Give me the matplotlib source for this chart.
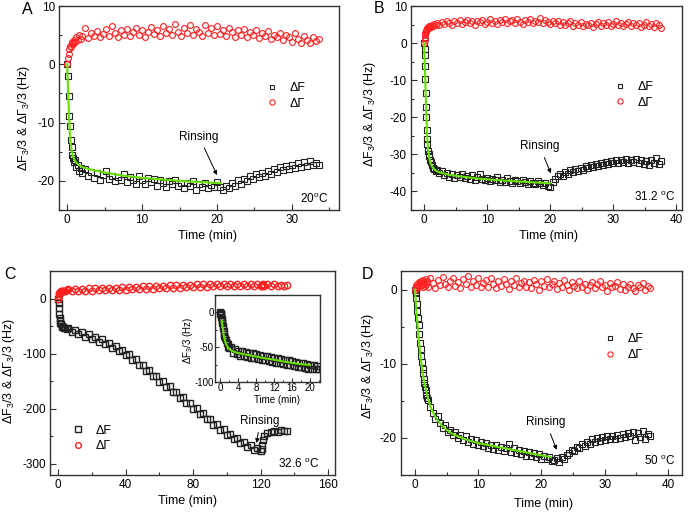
import matplotlib
matplotlib.use("Agg")
import matplotlib.pyplot as plt
from matplotlib.ticker import MultipleLocator

plt.rcParams["font.family"] = ["Liberation Sans", "DejaVu Sans"]
plt.rcParams["mathtext.fontset"] = "custom"
plt.rcParams["mathtext.rm"] = "Liberation Sans"
plt.rcParams["mathtext.it"] = "Liberation Sans:italic"
plt.rcParams["mathtext.bf"] = "Liberation Sans:bold"
plt.rcParams["axes.unicode_minus"] = False

BLACK = "#222222"
RED = "#ff2020"
GREEN = "#66e000"

# ---------------- Panel A (20 C) ----------------
A_time = [0, 0.1, 0.2, 0.3, 0.4, 0.5, 0.6, 0.7, 0.8, 0.9,
          1.0, 1.2, 1.4, 1.6, 1.8, 2.0, 2.4, 2.8, 3.2, 3.6,
          4.0, 4.4, 4.8, 5.2, 5.6, 6.0, 6.4, 6.8, 7.2, 7.6,
          8.0, 8.4, 8.8, 9.2, 9.6, 10.0, 10.4, 10.8, 11.2, 11.6,
          12.0, 12.4, 12.8, 13.2, 13.6, 14.0, 14.4, 14.8, 15.2, 15.6,
          16.0, 16.4, 16.8, 17.2, 17.6, 18.0, 18.4, 18.8, 19.2, 19.6,
          20.0, 20.4, 20.8, 21.2, 21.6, 22.0, 22.4, 22.8, 23.2, 23.6,
          24.0, 24.4, 24.8, 25.2, 25.6, 26.0, 26.4, 26.8, 27.2, 27.6,
          28.0, 28.4, 28.8, 29.2, 29.6, 30.0, 30.4, 30.8, 31.2, 31.6,
          32.0, 32.4, 32.8, 33.2, 33.6]
A_dF = [0, -2.0, -5.5, -8.8, -10.6, -13.0, -14.2, -15.6, -16.0, -16.8,
        -16.4, -17.6, -17.2, -18.3, -17.8, -18.6, -18.0, -19.2, -18.4, -19.5,
        -18.7, -19.8, -19.0, -18.3, -19.6, -19.1, -20.1, -19.3, -19.8, -18.8,
        -20.2, -19.4, -19.9, -20.5, -19.2, -19.8, -20.6, -19.5, -20.2, -19.7,
        -20.8, -19.9, -20.4, -21.0, -20.0, -20.6, -19.8, -20.9, -20.3, -21.2,
        -20.4, -20.9, -20.1, -21.5, -20.6, -21.0, -20.3, -21.3, -20.7, -21.1,
        -20.2, -21.0, -21.6, -20.8, -21.3, -20.4, -20.9, -19.9, -20.5, -19.6,
        -20.0, -19.2, -19.7, -18.8, -19.4, -18.6, -19.1, -18.3, -18.8, -17.9,
        -18.4, -17.6, -18.2, -17.5, -18.0, -17.2, -17.8, -17.0, -17.6, -16.8,
        -17.5, -16.6, -17.3, -16.9, -17.2]
A_dG = [0, 1.0, 1.8, 2.6, 3.2, 2.9, 3.6, 3.9, 3.4, 4.2,
        3.8, 4.6, 4.1, 5.0, 4.4, 4.9, 6.2, 4.5, 5.4, 4.8,
        5.7, 4.6, 5.2, 6.0, 4.9, 6.5, 5.3, 4.7, 5.8, 5.1,
        6.1, 4.8, 5.5, 6.3, 5.0, 5.9, 4.7, 5.6, 6.4, 5.2,
        5.8, 4.9, 6.6, 5.3, 6.0, 5.1, 6.9, 5.5, 4.8, 6.2,
        5.4, 6.7, 5.0, 6.1, 5.6, 4.9, 6.8, 5.3, 6.3, 5.0,
        6.5, 5.2, 5.9, 4.8, 6.2, 5.5, 4.7, 5.8, 5.1, 6.0,
        4.6, 5.5, 5.0, 5.9, 4.5, 5.3, 4.8, 5.7, 4.3, 5.1,
        4.6, 5.4, 4.2, 5.0, 4.7, 3.9, 5.3, 4.4, 3.7, 4.8,
        4.1, 3.6, 4.6, 4.0, 4.3]
A_fit_t = [0, 0.1, 0.2, 0.3, 0.4, 0.6, 0.8, 1.0, 1.3, 1.7, 2.2, 3, 4, 6, 8, 11, 15, 20.5]
A_fit_y = [0, -4.0, -7.5, -10.5, -12.8, -14.8, -15.9, -16.5, -17.0, -17.4, -17.7,
           -18.0, -18.3, -18.8, -19.2, -19.6, -20.0, -20.4]

# ---------------- Panel B (31.2 C) ----------------
B_time = [0, 0.05, 0.1, 0.15, 0.2, 0.25, 0.3, 0.35, 0.4, 0.45,
          0.5, 0.6, 0.7, 0.8, 0.9, 1.0, 1.2, 1.4, 1.6, 1.8,
          2.0, 2.4, 2.8, 3.2, 3.6, 4.0, 4.4, 4.8, 5.2, 5.6,
          6.0, 6.4, 6.8, 7.2, 7.6, 8.0, 8.4, 8.8, 9.2, 9.6,
          10.0, 10.4, 10.8, 11.2, 11.6, 12.0, 12.4, 12.8, 13.2, 13.6,
          14.0, 14.4, 14.8, 15.2, 15.6, 16.0, 16.4, 16.8, 17.2, 17.6,
          18.0, 18.4, 18.8, 19.2, 19.6, 20.0, 20.4, 20.8, 21.2, 21.6,
          22.0, 22.4, 22.8, 23.2, 23.6, 24.0, 24.4, 24.8, 25.2, 25.6,
          26.0, 26.4, 26.8, 27.2, 27.6, 28.0, 28.4, 28.8, 29.2, 29.6,
          30.0, 30.4, 30.8, 31.2, 31.6, 32.0, 32.4, 32.8, 33.2, 33.6,
          34.0, 34.4, 34.8, 35.2, 35.6, 36.0, 36.4, 36.8, 37.2, 37.6]
B_dF = [0, -1.5, -3.2, -6.2, -9.8, -13.5, -17.2, -20.0, -23.5, -25.8,
        -27.2, -29.0, -29.8, -30.5, -31.4, -32.0, -32.8, -33.6, -34.0, -34.5,
        -34.2, -35.1, -34.6, -35.6, -35.0, -36.0, -35.3, -36.3, -35.5, -36.1,
        -35.4, -36.4, -35.8, -36.6, -35.6, -36.9, -36.0, -35.2, -36.7, -37.0,
        -36.3, -37.3, -36.6, -37.0, -36.2, -37.4, -36.8, -37.5, -36.5, -37.2,
        -37.6, -36.8, -37.3, -37.8, -37.0, -37.5, -37.9, -37.1, -37.6, -38.0,
        -37.3, -37.8, -38.2, -37.6, -38.4, -38.8, -37.5, -36.6, -35.9, -35.3,
        -35.8, -34.8, -35.2, -34.3, -34.8, -33.9, -34.4, -33.6, -34.1, -33.2,
        -33.7, -32.9, -33.5, -32.6, -33.2, -32.3, -32.9, -32.0, -32.6, -31.8,
        -32.4, -31.6, -32.2, -31.4, -32.0, -31.3, -32.3, -31.5, -32.1, -31.2,
        -32.4, -31.5, -32.6, -31.7, -32.8, -31.6, -32.3, -31.0, -32.5, -31.8]
B_dG = [0, 0.8, 1.5, 2.2, 2.7, 3.0, 3.4, 3.2, 3.7, 3.9,
        4.0, 4.3, 4.1, 4.5, 4.6, 4.3, 4.9, 4.6, 5.1, 4.8,
        5.3, 4.9, 5.8, 5.2, 6.0, 5.4, 5.0, 5.9, 5.5, 6.1,
        5.1, 5.7, 6.2, 5.3, 5.9, 5.0, 6.0, 5.6, 6.3, 5.2,
        5.8, 6.4, 5.4, 6.0, 5.1, 6.2, 5.7, 6.5, 5.3, 5.9,
        6.3, 5.5, 6.6, 5.8, 5.2, 6.1, 5.6, 6.4, 5.4, 6.0,
        5.7, 6.9, 5.5, 6.2, 5.8, 5.1, 6.0, 5.4, 5.9, 5.0,
        5.6, 4.8, 5.4, 5.9, 4.6, 5.3, 5.0, 5.7, 4.5, 5.2,
        4.8, 5.5, 4.4, 5.1, 5.6, 4.7, 5.3, 4.9, 5.8, 4.6,
        5.2, 5.9, 4.8, 5.4, 4.5, 5.1, 5.7, 4.6, 5.3, 4.9,
        5.5, 4.4, 5.0, 5.6, 4.7, 5.2, 4.3, 5.4, 4.8, 4.1]
B_fit_t = [0, 0.1, 0.2, 0.3, 0.4, 0.5, 0.6, 0.8, 1.0, 1.3, 1.7, 2.2, 3, 4, 6, 9, 13, 17, 20]
B_fit_y = [0, -6, -12, -17.5, -22, -26, -28.5, -31, -32.4, -33.4, -34.2, -34.7,
           -35.1, -35.5, -36.0, -36.6, -37.1, -37.5, -37.8]

# ---------------- Panel C (32.6 C) ----------------
C_time = [0, 0.2, 0.4, 0.6, 0.8, 1.0, 1.3, 1.6, 2.0, 2.5, 3, 3.5, 4, 5,
          6, 8, 10, 12, 14, 16, 18, 20, 22, 24,
          26, 28, 30, 32, 34, 36, 38, 40, 42, 44,
          46, 48, 50, 52, 54, 56, 58, 60, 62, 64,
          66, 68, 70, 72, 74, 76, 78, 80, 82, 84,
          86, 88, 90, 92, 94, 96, 98, 100, 102, 104,
          106, 108, 110, 112, 114, 116, 118,
          120, 120.5, 121, 121.5, 122, 124, 126, 128, 130, 132, 134, 135.5]
C_dF = [0, -8, -18, -28, -35, -40, -44, -47, -49, -51, -52, -54, -53, -56,
        -54, -61, -57, -65, -61, -69, -65, -73, -69, -78,
        -74, -83, -80, -89, -86, -96, -93, -103, -101, -112,
        -110, -121, -120, -131, -130, -141, -140, -151, -150, -161,
        -159, -170, -169, -180, -179, -190, -189, -200, -199, -209,
        -208, -219, -218, -229, -227, -238, -236, -247, -245, -255,
        -253, -262, -260, -269, -266, -274, -271,
        -277, -273, -266, -256, -249, -244, -242, -240, -242, -239, -241, -240]
C_dG = [0, 4, 8, 10, 11, 12, 12.5, 13, 13, 14, 13.5, 14.5, 14, 15,
        17, 13, 17.5, 13.5, 18, 14, 18.5, 14.5, 19, 15,
        19.5, 15, 20, 15.5, 20, 16, 20.5, 16, 21, 16.5,
        21.5, 17, 22, 17.5, 22.5, 18, 23, 18.5, 23.5, 19,
        24, 19.5, 24.5, 20, 25, 20.5, 25, 21, 25.5, 21,
        26, 21.5, 26, 22, 26.5, 22, 27, 22.5, 27, 22.5,
        27, 23, 27, 22.5, 26.5, 22.5, 26.5,
        22, 25, 23, 26, 22, 26, 22, 25.5, 22, 25, 22.5, 24]

# inset: first 22 min of panel C
I_time = [0, 0, 0.05, 0.1, 0.15, 0.2, 0.25, 0.3, 0.4, 0.5,
          0.6, 0.7, 0.8, 0.9, 1.0, 1.2, 1.4, 1.6, 1.8, 2.0,
          2.4, 2.8, 3.2, 3.6, 4.0, 4.4, 4.8, 5.2, 5.6, 6.0,
          6.4, 6.8, 7.2, 7.6, 8.0, 8.4, 8.8, 9.2, 9.6, 10.0,
          10.4, 10.8, 11.2, 11.6, 12.0, 12.4, 12.8, 13.2, 13.6, 14.0,
          14.4, 14.8, 15.2, 15.6, 16.0, 16.4, 16.8, 17.2, 17.6, 18.0,
          18.4, 18.8, 19.2, 19.6, 20.0, 20.4, 20.8, 21.2, 21.6, 22.0]
I_dF = [0, -2, -1, -4, -3, -6, -9, -12, -15, -19,
        -23, -27, -31, -34, -37, -40, -44, -46, -49, -51,
        -50, -58, -52, -60, -55, -62, -56, -63, -57, -64,
        -58, -65, -59, -66, -60, -67, -61, -68, -62, -69,
        -63, -70, -64, -71, -65, -72, -66, -73, -67, -74,
        -68, -75, -69, -76, -70, -77, -71, -78, -72, -79,
        -73, -80, -74, -81, -75, -82, -76, -82, -77, -81]
I_fit_t = [0.3, 0.5, 0.7, 1.0, 1.3, 1.6, 2.0, 2.5, 3, 4, 6, 8, 10, 12, 14, 16, 18, 20]
I_fit_y = [-12, -22, -31, -40, -46, -49.5, -52.5, -55, -56.5, -58.5, -61, -63.5,
           -66, -68, -70.5, -72.5, -74.5, -75.5]

# ---------------- Panel D (50 C) ----------------
D_time = [0, 0.1, 0.2, 0.3, 0.4, 0.5, 0.6, 0.7, 0.8, 0.9,
          1.0, 1.1, 1.2, 1.3, 1.4, 1.5, 1.6, 1.7, 1.8, 1.9,
          2.0, 2.4, 2.8, 3.2, 3.6, 4.0, 4.4, 4.8, 5.2, 5.6,
          6.0, 6.4, 6.8, 7.2, 7.6, 8.0, 8.4, 8.8, 9.2, 9.6,
          10.0, 10.4, 10.8, 11.2, 11.6, 12.0, 12.4, 12.8, 13.2, 13.6,
          14.0, 14.4, 14.8, 15.2, 15.6, 16.0, 16.4, 16.8, 17.2, 17.6,
          18.0, 18.4, 18.8, 19.2, 19.6, 20.0, 20.4, 20.8, 21.2, 21.6,
          22.0, 22.4, 22.8, 23.2, 23.6, 24.0, 24.4, 24.8, 25.2, 25.6,
          26.0, 26.4, 26.8, 27.2, 27.6, 28.0, 28.4, 28.8, 29.2, 29.6,
          30.0, 30.4, 30.8, 31.2, 31.6, 32.0, 32.4, 32.8, 33.2, 33.6,
          34.0, 34.4, 34.8, 35.2, 35.6, 36.0, 36.4, 36.8, 37.2]
D_dF = [0, -0.5, -1.2, -2.0, -2.9, -3.8, -4.8, -6.0, -7.2, -8.0,
        -9.0, -9.8, -10.7, -11.3, -12.0, -12.6, -13.2, -13.6, -14.2, -14.6,
        -14.9, -15.8, -16.6, -17.4, -17.1, -18.0, -18.6, -18.2, -19.2, -19.0,
        -19.6, -19.2, -20.0, -19.6, -20.3, -19.8, -20.5, -20.1, -20.8, -20.3,
        -20.9, -20.5, -21.1, -20.7, -21.3, -20.9, -21.5, -21.0, -21.6, -21.2,
        -21.7, -21.3, -20.8, -21.9, -21.4, -22.0, -21.6, -22.2, -21.8, -22.4,
        -21.9, -22.5, -22.0, -22.6, -22.2, -22.8, -22.5, -22.9, -22.6, -23.1,
        -23.0, -22.7, -23.2, -22.6, -22.9, -22.3, -22.0, -21.6, -21.8, -21.2,
        -21.4, -20.8, -21.1, -20.5, -20.8, -20.2, -20.6, -20.0, -20.4, -19.9,
        -20.3, -19.8, -20.2, -19.7, -20.1, -19.6, -20.0, -19.5, -19.9, -19.3,
        -19.8, -19.2, -20.3, -19.4, -19.9, -19.1, -20.2, -19.5, -19.8]
D_dG = [0, 0.3, 0.6, 0.2, 0.8, 0.5, 1.0, 0.4, 0.9, 1.2,
        0.6, 1.1, 0.3, 1.3, 0.8, 1.0, 0.5, 1.4, 0.7, 1.2,
        0.4, 1.5, 0.9, 0.2, 1.3, 0.6, 1.7, 0.8, 0.3, 1.2,
        1.6, 0.5, 1.0, 0.2, 1.4, 0.7, 1.8, 0.4, 1.1, 0.6,
        1.5, 0.3, 0.9, 1.3, 0.4, 1.6, 0.7, 0.2, 1.2, 0.5,
        1.4, 0.8, 0.1, 1.1, 0.6, 1.5, 0.3, 0.9, 1.2, 0.4,
        1.0, 0.2, 1.3, 0.7, 0.0, 1.1, 0.5, 1.4, 0.3, 0.8,
        1.2, 0.1, 0.9, 0.4, 1.3, 0.6, 0.0, 1.0, 0.5, 0.2,
        1.1, 0.4, 0.8, -0.1, 0.6, 1.0, 0.2, 0.7, 1.2, 0.3,
        0.6, -0.2, 0.9, 0.3, 0.5, 1.0, 0.1, 0.7, -0.1, 0.4,
        0.8, 0.2, -0.2, 0.6, 0.3, 0.9, 0.0, 0.5, 0.2]
D_fit_t = [0, 0.2, 0.4, 0.6, 0.8, 1.0, 1.3, 1.6, 2.0, 2.5, 3.0, 3.5, 4.2, 5, 6, 8, 10,
           13, 16, 19, 21.5]
D_fit_y = [0, -2.4, -4.6, -6.6, -8.3, -9.8, -11.6, -13.0, -14.5, -15.9, -16.8, -17.5,
           -18.3, -18.9, -19.5, -20.2, -20.7, -21.2, -21.7, -22.2, -22.6]

YLABEL = "ΔF$_3$/3 & ΔΓ$_3$/3 (Hz)"


def style_axes(ax, xlim, ylim, xstep, ystep, size=8.5, pad=3):
    ax.set_xlim(*xlim)
    ax.set_ylim(*ylim)
    ax.xaxis.set_major_locator(MultipleLocator(xstep))
    ax.xaxis.set_minor_locator(MultipleLocator(xstep / 2))
    ax.yaxis.set_major_locator(MultipleLocator(ystep))
    ax.yaxis.set_minor_locator(MultipleLocator(ystep / 2))
    ax.tick_params(which="both", direction="in", top=False, right=False,
                   labelsize=size, width=0.8, color="#333333", pad=pad)
    ax.tick_params(which="major", length=4)
    ax.tick_params(which="minor", length=2)
    for s in ax.spines.values():
        s.set_linewidth(1.0)
        s.set_color("#333333")


def draw_series(ax, t, dF, dG, ms=3.8, mew=0.8):
    ax.plot(t, dF, ls="none", marker="s", ms=ms, mfc="none", mec=BLACK, mew=mew, label="ΔF")
    ax.plot(t, dG, ls="none", marker="o", ms=ms + 0.4, mfc="none", mec=RED, mew=mew, label="ΔΓ")


def finish(ax, xlab, ylab, leg, temp, rinse):
    ax.set_xlabel("Time (min)", fontsize=9)
    ax.set_ylabel(YLABEL, fontsize=9)
    ax.xaxis.set_label_coords(*xlab)
    ax.yaxis.set_label_coords(*ylab)
    ax.legend(loc="center left", bbox_to_anchor=leg, frameon=False, fontsize=9,
              handlelength=0.8, handletextpad=1.0, labelspacing=0.3,
              borderpad=0, borderaxespad=0, markerscale=0.9)
    ax.text(temp[0], temp[1], temp[2], transform=ax.transAxes, ha="right",
            va="center", fontsize=8.5)
    ax.annotate("Rinsing", xy=rinse[1], xytext=rinse[0], ha="center", va="center",
                fontsize=8.5,
                arrowprops=dict(arrowstyle="-|>", color="black", lw=0.7,
                                mutation_scale=6, shrinkA=2, shrinkB=0))


fig = plt.figure(figsize=(6.94, 5.14), dpi=100)

# A
axA = fig.add_axes([0.0850, 0.5914, 0.4035, 0.3969])
draw_series(axA, A_time, A_dF, A_dG)
axA.plot(A_fit_t, A_fit_y, color=GREEN, lw=1.5)
style_axes(axA, (-1.1, 36.3), (-25, 10), 10, 10)
finish(axA, (0.53, -0.098), (-0.097, 0.453), (0.742, 0.559),
       (0.96, 0.054, "20$^{\\mathrm{o}}$C"), ((17.6, -12.4), (20.0, -19.0)))

# B
axB = fig.add_axes([0.5922, 0.5914, 0.3905, 0.3969])
draw_series(axB, B_time, B_dF, B_dG)
axB.plot(B_fit_t, B_fit_y, color=GREEN, lw=1.5)
style_axes(axB, (-2.1, 40.9), (-45, 10), 10, 10)
finish(axB, (0.508, -0.098), (-0.123, 0.47), (0.752, 0.564),
       (0.975, 0.065, "31.2 $^{\\mathrm{o}}$C"), ((18.3, -27.8), (20.1, -35.1)))

# C
axC = fig.add_axes([0.0720, 0.0759, 0.4107, 0.3969])
draw_series(axC, C_time, C_dF, C_dG, ms=4.2, mew=1.0)
style_axes(axC, (-4.9, 164), (-320, 50), 40, 100)
finish(axC, (0.484, -0.098), (-0.117, 0.51), (0.08, 0.179),
       (0.944, 0.055, "32.6 $^{\\mathrm{o}}$C"), ((119.5, -222), (117.6, -262)))

# inset of C
axI = fig.add_axes([0.3098, 0.2568, 0.1513, 0.1693])
axI.plot(I_time, I_dF, ls="none", marker="s", ms=3.8, mfc="none", mec=BLACK, mew=1.0)
axI.plot(I_fit_t, I_fit_y, color=GREEN, lw=1.5)
style_axes(axI, (-1.2, 22.2), (-100, 25), 4, 50, size=7, pad=1)
axI.tick_params(which="major", length=3)
axI.tick_params(which="minor", length=1.5)
axI.set_xlabel("Time (min)", fontsize=7)
axI.set_ylabel("ΔF$_3$/3 (Hz)", fontsize=7)
axI.xaxis.set_label_coords(0.59, -0.15)
axI.yaxis.set_label_coords(-0.19, 0.48)

# D
axD = fig.add_axes([0.5778, 0.0759, 0.4049, 0.3969])
draw_series(axD, D_time, D_dF, D_dG)
axD.plot(D_fit_t, D_fit_y, color=GREEN, lw=1.5)
style_axes(axD, (-2.2, 42.2), (-25, 2.5), 10, 10)
finish(axD, (0.508, -0.113), (-0.088, 0.534), (0.725, 0.627),
       (0.975, 0.069, "50 $^{\\mathrm{o}}$C"), ((20.7, -17.9), (22.4, -21.6)))

for x, y, letter in [(0.039, 0.982, "A"), (0.546, 0.984, "B"),
                     (0.0144, 0.465, "C"), (0.529, 0.465, "D")]:
    fig.text(x, y, letter, ha="center", va="center", fontsize=11.5)

fig.savefig("out.png", dpi=100)
